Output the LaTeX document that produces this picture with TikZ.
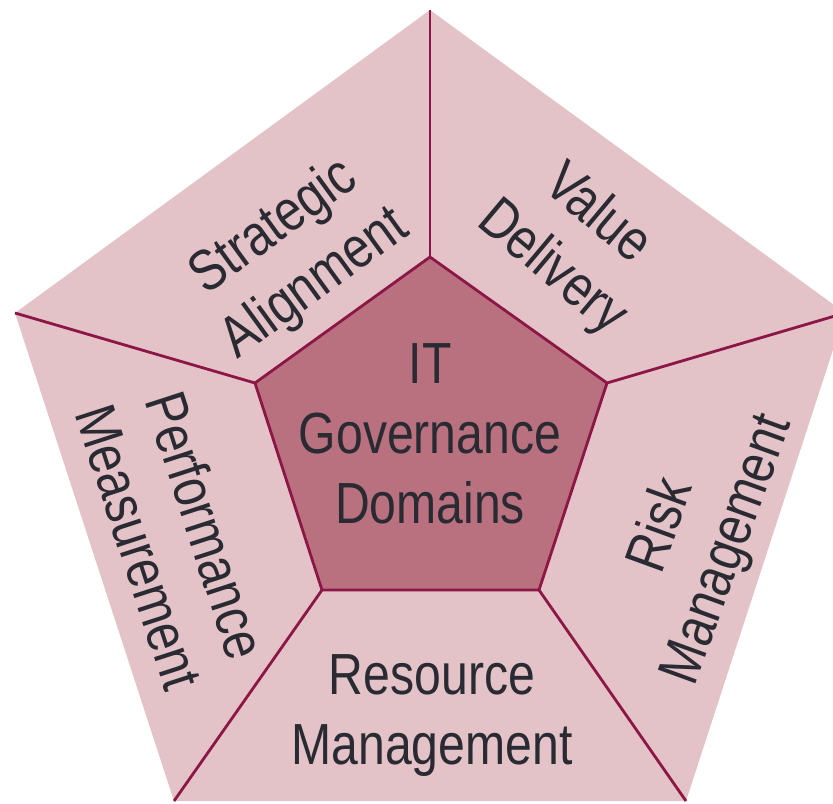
\documentclass[tikz,border=0pt]{standalone}
\usepackage{fontspec}
\setmainfont[FakeStretch=0.83]{Liberation Sans}
\definecolor{outerfill}{HTML}{E3C3C8}
\definecolor{innerfill}{HTML}{B9717F}
\definecolor{edgecol}{HTML}{8C1646}
\definecolor{textcol}{HTML}{2A2A33}
\begin{document}
\begin{tikzpicture}[x=0.5pt,y=-0.5pt,
  edge/.style={draw=edgecol,line width=1.4pt,line join=miter},
  lab/.style={text=textcol,font=\fontsize{29}{35}\selectfont,align=center,inner sep=0pt}]
\useasboundingbox (0,0) rectangle (833,803);
\clip (0,0) rectangle (833,803);
% outer vertices
\coordinate (oT) at (430,10);
\coordinate (oL) at (15,313);
\coordinate (oR) at (845,313);
\coordinate (oBL) at (174,801);
\coordinate (oBR) at (686,801);
% inner vertices
\coordinate (iT) at (430,257);
\coordinate (iL) at (255,383);
\coordinate (iR) at (607,383);
\coordinate (iBL) at (322,590);
\coordinate (iBR) at (539,590);
% outer pentagon
\fill[outerfill] (oT) -- (oR) -- (oBR) -- (oBL) -- (oL) -- cycle;
% spokes
\draw[edge] (iT) -- (oT);
\draw[edge] (iL) -- (oL);
\draw[edge] (iR) -- (oR);
\draw[edge] (iBL) -- (oBL);
\draw[edge] (iBR) -- (oBR);
% inner pentagon
\filldraw[edge,fill=innerfill] (iT) -- (iR) -- (iBR) -- (iBL) -- (iL) -- cycle;
% labels
\node[lab] (center) at (430,434) {IT\\Governance\\Domains};
\node[lab,rotate=36] (sa) at (295,256) {Strategic\\Alignment};
\node[lab,rotate=-40] (vd) at (574,242) {Value\\Delivery};
\node[lab,rotate=70] (rm) at (696,538) {Risk\\Management};
\node[lab,rotate=-72] (pm) at (173,536) {Performance\\Measurement};
\node[lab] (res) at (432,716) {Resource\\Management};
\end{tikzpicture}
\end{document}
